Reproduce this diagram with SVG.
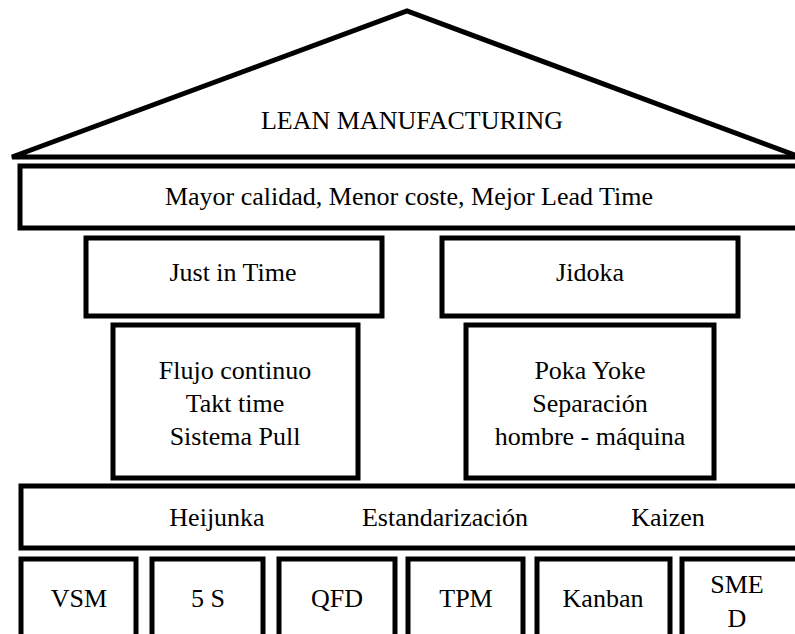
<svg xmlns="http://www.w3.org/2000/svg" width="795" height="634" viewBox="0 0 795 634">
  <rect width="795" height="634" fill="#fff"/>

  <!-- boxes: white fill, heavy black outline; labels: Times-metric serif, centred -->
  <g id="roof">
    <polygon fill="#fff" stroke="#000" stroke-width="5" points="12,157 407,11 800,157"/>
    <text font-family="Times New Roman" font-size="26" text-anchor="middle" x="412" y="129">LEAN MANUFACTURING</text>
  </g>

  <g id="goals">
    <rect fill="#fff" stroke="#000" stroke-width="5" x="20" y="166" width="790" height="62"/>
    <text font-family="Times New Roman" font-size="26" text-anchor="middle" x="409" y="205">Mayor calidad, Menor coste, Mejor Lead Time</text>
  </g>

  <g id="jit">
    <rect fill="#fff" stroke="#000" stroke-width="5" x="86" y="238" width="296" height="78"/>
    <text font-family="Times New Roman" font-size="26" text-anchor="middle" x="233" y="281">Just in Time</text>
  </g>

  <g id="jidoka">
    <rect fill="#fff" stroke="#000" stroke-width="5" x="442" y="238" width="296" height="78"/>
    <text font-family="Times New Roman" font-size="26" text-anchor="middle" x="590" y="281">Jidoka</text>
  </g>

  <g id="jit-tools">
    <rect fill="#fff" stroke="#000" stroke-width="5" x="113" y="325" width="245" height="153"/>
    <text font-family="Times New Roman" font-size="26" text-anchor="middle" x="235" y="379">Flujo continuo</text>
    <text font-family="Times New Roman" font-size="26" text-anchor="middle" x="235" y="412">Takt time</text>
    <text font-family="Times New Roman" font-size="26" text-anchor="middle" x="235" y="445">Sistema Pull</text>
  </g>

  <g id="jidoka-tools">
    <rect fill="#fff" stroke="#000" stroke-width="5" x="466" y="325" width="248" height="153"/>
    <text font-family="Times New Roman" font-size="26" text-anchor="middle" x="590" y="379">Poka Yoke</text>
    <text font-family="Times New Roman" font-size="26" text-anchor="middle" x="590" y="412">Separaci&#243;n</text>
    <text font-family="Times New Roman" font-size="26" text-anchor="middle" x="590" y="445">hombre - m&#225;quina</text>
  </g>

  <g id="base">
    <rect fill="#fff" stroke="#000" stroke-width="5" x="21" y="486" width="790" height="62"/>
    <text font-family="Times New Roman" font-size="26" text-anchor="middle" x="217" y="526">Heijunka</text>
    <text font-family="Times New Roman" font-size="26" text-anchor="middle" x="445" y="526">Estandarizaci&#243;n</text>
    <text font-family="Times New Roman" font-size="26" text-anchor="middle" x="668" y="526">Kaizen</text>
  </g>

  <g id="vsm">
    <rect fill="#fff" stroke="#000" stroke-width="5" x="21" y="559" width="115" height="90"/>
    <text font-family="Times New Roman" font-size="26" text-anchor="middle" x="79" y="607">VSM</text>
  </g>
  <g id="five-s">
    <rect fill="#fff" stroke="#000" stroke-width="5" x="152" y="559" width="111" height="90"/>
    <text font-family="Times New Roman" font-size="26" text-anchor="middle" x="208" y="607">5 S</text>
  </g>
  <g id="qfd">
    <rect fill="#fff" stroke="#000" stroke-width="5" x="279" y="559" width="116" height="90"/>
    <text font-family="Times New Roman" font-size="26" text-anchor="middle" x="337" y="607">QFD</text>
  </g>
  <g id="tpm">
    <rect fill="#fff" stroke="#000" stroke-width="5" x="408" y="559" width="115" height="90"/>
    <text font-family="Times New Roman" font-size="26" text-anchor="middle" x="466" y="607">TPM</text>
  </g>
  <g id="kanban">
    <rect fill="#fff" stroke="#000" stroke-width="5" x="537" y="559" width="133" height="90"/>
    <text font-family="Times New Roman" font-size="26" text-anchor="middle" x="603" y="607">Kanban</text>
  </g>
  <g id="smed">
    <rect fill="#fff" stroke="#000" stroke-width="5" x="682" y="559" width="130" height="90"/>
    <text font-family="Times New Roman" font-size="26" text-anchor="middle" x="737" y="593">SME</text>
    <text font-family="Times New Roman" font-size="26" text-anchor="middle" x="737" y="627">D</text>
  </g>

  <g id="connectors"/>
</svg>
